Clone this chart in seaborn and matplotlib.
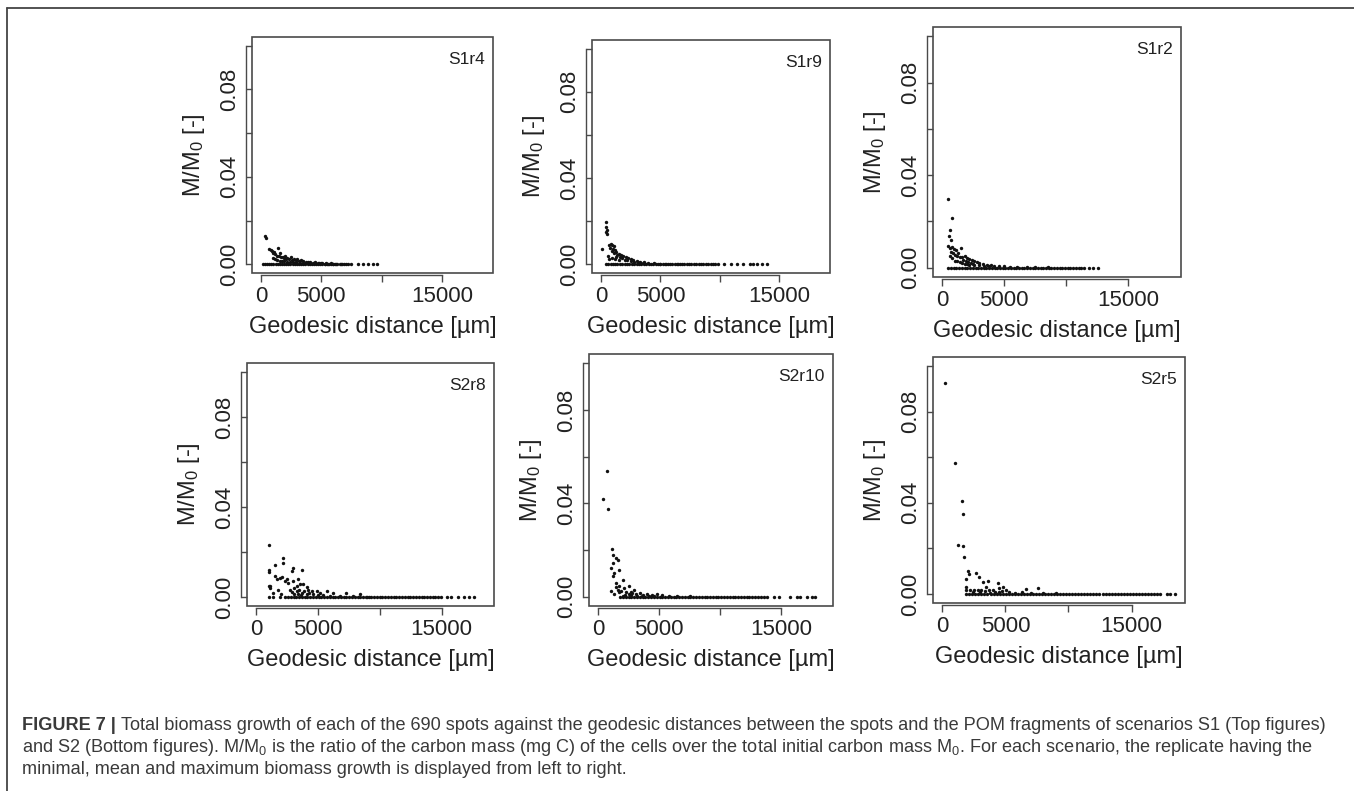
import numpy as np
import pandas as pd
import matplotlib
matplotlib.use('Agg')
import matplotlib.pyplot as plt
from matplotlib.lines import Line2D
from matplotlib.patches import Rectangle
import seaborn as sns

# ── DATA ───────────────────────────────────────
# scattered points above the baseline: distance [um], M/M0 [-]
s1r4_x = [300, 400, 650, 800, 900, 1000, 1100, 1200, 1300, 1400,
          1500, 1600, 1700, 1800, 1900, 2000, 2100, 2200, 2350, 2500,
          2600, 2750, 2900, 3000, 3150, 3300, 3500, 3700, 3900, 4100,
          4300, 4500, 4800, 5100, 5400, 5800, 6200, 6600,
          1000, 1150, 1350, 1550, 1750, 1950, 2150, 2400, 2650, 2900,
          3200, 3450, 3750, 4050, 4400, 4700, 5000, 5300, 5600, 6000]
s1r4_y = [0.0130, 0.0120, 0.0070, 0.0065, 0.0060, 0.0050, 0.0058, 0.0045, 0.0040, 0.0075,
          0.0038, 0.0050, 0.0032, 0.0035, 0.0028, 0.0040, 0.0026, 0.0030, 0.0022, 0.0033,
          0.0020, 0.0025, 0.0018, 0.0022, 0.0015, 0.0018, 0.0014, 0.0012, 0.0011, 0.0010,
          0.0008, 0.0009, 0.0007, 0.0006, 0.0005, 0.0004, 0.0003, 0.0002,
          0.0028, 0.0022, 0.0018, 0.0016, 0.0014, 0.0013, 0.0012, 0.0011, 0.0010, 0.0009,
          0.0008, 0.0007, 0.0006, 0.0006, 0.0005, 0.0004, 0.0004, 0.0003, 0.0003, 0.0002]
s1r4_base = [150, 330, 500, 690, 860, 1040, 1220, 1390, 1570, 1750, 1920, 2100, 2280, 2450,
             2630, 2810, 2980, 3160, 3340, 3510, 3690, 3870, 4040, 4220, 4400, 4570, 4750,
             4930, 5100, 5280, 5460, 5630, 5810, 5990, 6160, 6340, 6520, 6690, 6870, 7050,
             7220, 7500, 8040, 8460, 8870, 9290, 9620]

s1r9_x = [475, 470, 480, 460, 490, 140, 836, 700, 950, 1100,
          800, 1000, 1200, 900, 1300, 1100, 1500, 1700, 1400, 1900,
          2100, 1600, 2300, 1800, 2500, 2000, 2700, 2200, 3000, 2500,
          3300, 2800, 3600, 3100, 4000, 3500, 4500, 5000, 5500, 6500,
          600, 700, 900, 1200, 1500, 1300]
s1r9_y = [0.0197, 0.0175, 0.0160, 0.0150, 0.0140, 0.0073, 0.0096, 0.0090, 0.0092, 0.0085,
          0.0078, 0.0070, 0.0068, 0.0060, 0.0058, 0.0052, 0.0050, 0.0045, 0.0042, 0.0040,
          0.0035, 0.0032, 0.0030, 0.0028, 0.0025, 0.0022, 0.0020, 0.0018, 0.0017, 0.0015,
          0.0013, 0.0012, 0.0010, 0.0009, 0.0008, 0.0006, 0.0005, 0.0004, 0.0003, 0.0002,
          0.0040, 0.0025, 0.0030, 0.0025, 0.0020, 0.0035]
s1r9_base = [420, 610, 820, 1010, 1220, 1400, 1610, 1820, 2000, 2210, 2400, 2610, 2820,
             3000, 3210, 3400, 3610, 3800, 4010, 4220, 4400, 4610, 4800, 5010, 5220, 5400,
             5610, 5800, 6010, 6210, 6400, 6610, 6800, 7010, 7220, 7400, 7610, 7800, 8010,
             8220, 8400, 8610, 8800, 9010, 9220, 9400, 9610, 9800, 10300, 10900, 11400,
             11930, 12540, 12800, 13100, 13500, 13990]

s1r2_x = [430, 785, 650, 580, 700, 500, 600, 800, 950, 700,
          1100, 900, 1300, 1500, 1000, 1200, 1400, 1600, 1800, 2000,
          1700, 2200, 1900, 2400, 2100, 2600, 2300, 2800, 2500, 3000,
          3300, 3600, 3900, 4200, 4600, 5000, 5500, 6000, 6800, 7500,
          8500, 600, 800, 1000, 1200, 1400, 1600, 1800, 2000, 2200,
          2600, 3000, 3400, 3800]
s1r2_y = [0.0297, 0.0215, 0.0164, 0.0139, 0.0120, 0.0095, 0.0085, 0.0090, 0.0080, 0.0070,
          0.0075, 0.0062, 0.0065, 0.0086, 0.0055, 0.0050, 0.0048, 0.0045, 0.0050, 0.0040,
          0.0035, 0.0038, 0.0030, 0.0032, 0.0025, 0.0028, 0.0022, 0.0024, 0.0018, 0.0020,
          0.0016, 0.0013, 0.0011, 0.0009, 0.0007, 0.0006, 0.0005, 0.0004, 0.0003, 0.0002,
          0.0002, 0.0050, 0.0040, 0.0030, 0.0028, 0.0024, 0.0020, 0.0017, 0.0015, 0.0013,
          0.0012, 0.0010, 0.0008, 0.0007]
s1r2_base = [500, 720, 930, 1150, 1380, 1600, 1810, 2030, 2260, 2480, 2700, 2910, 3130,
             3350, 3570, 3790, 4000, 4220, 4440, 4660, 4880, 5100, 5310, 5530, 5750, 5970,
             6190, 6400, 6620, 6840, 7060, 7280, 7500, 7710, 7930, 8150, 8370, 8590, 8800,
             9020, 9240, 9460, 9680, 9900, 10110, 10330, 10550, 10770, 10990, 11200, 11450,
             11800, 12150, 12560]

s2r8_x = [1075, 1075, 1075, 1075, 1100, 1100, 1530, 2200, 2200, 2875,
          3680, 3000, 1530, 1660, 1930, 2470, 2600, 1800, 3000, 3280,
          3400, 3550, 3820, 4090, 4220, 4490, 4900, 5170, 5700, 6240,
          7300, 8370, 2100, 2350, 1400, 2000, 2700, 3100, 3300, 3500,
          3700, 3900, 4100, 4300, 4600, 5000, 5400, 6000, 6800, 7800,
          9000, 3100, 3400, 3600, 2900]
s2r8_y = [0.0231, 0.0120, 0.0110, 0.0050, 0.0040, 0.0048, 0.0142, 0.0172, 0.0153, 0.0117,
          0.0120, 0.0129, 0.0093, 0.0078, 0.0085, 0.0081, 0.0062, 0.0033, 0.0069, 0.0047,
          0.0078, 0.0060, 0.0056, 0.0045, 0.0033, 0.0025, 0.0028, 0.0019, 0.0025, 0.0018,
          0.0016, 0.0012, 0.0090, 0.0070, 0.0020, 0.0015, 0.0030, 0.0038, 0.0025, 0.0030,
          0.0020, 0.0028, 0.0015, 0.0020, 0.0012, 0.0010, 0.0008, 0.0006, 0.0004, 0.0003,
          0.0002, 0.0015, 0.0012, 0.0010, 0.0022]
s2r8_base = [1000, 1400, 1900, 2300, 2600, 2800, 3030, 3250, 3480, 3700, 3920, 4150, 4380,
             4600, 4820, 5050, 5280, 5500, 5720, 5950, 6180, 6400, 6620, 6850, 7080, 7300,
             7520, 7750, 7980, 8200, 8420, 8650, 8880, 9100, 9320, 9550, 9780, 10000, 10220,
             10450, 10680, 10900, 11120, 11350, 11580, 11800, 12020, 12250, 12480, 12700,
             12920, 13150, 13380, 13600, 13820, 14050, 14280, 14500, 14720, 14950, 15400,
             15800, 16300, 16800, 17200, 17650]

s2r10_x = [734, 435, 843, 1142, 1250, 1469, 1605, 1740, 1197, 1333,
           1061, 1197, 1469, 2013, 1740, 2149, 2557, 2693, 2965, 1061,
           1333, 2013, 1600, 1900, 2300, 2500, 2800, 3100, 3400, 3700,
           4000, 4400, 4800, 5200, 5800, 6500, 7500, 2200, 2700, 3200,
           3600, 4200, 4600, 1500, 1700]
s2r10_y = [0.0539, 0.0420, 0.0374, 0.0206, 0.0180, 0.0166, 0.0156, 0.0116, 0.0145, 0.0102,
           0.0123, 0.0087, 0.0059, 0.0070, 0.0044, 0.0037, 0.0044, 0.0018, 0.0027, 0.0026,
           0.0013, 0.0001, 0.0030, 0.0025, 0.0020, 0.0012, 0.0015, 0.0010, 0.0014, 0.0008,
           0.0012, 0.0007, 0.0010, 0.0006, 0.0005, 0.0004, 0.0003, 0.0008, 0.0006, 0.0005,
           0.0004, 0.0003, 0.0002, 0.0040, 0.0022]
s2r10_base = [1800, 2050, 2280, 2500, 2740, 2960, 3200, 3420, 3660, 3880, 4120, 4340, 4580,
              4800, 5040, 5260, 5500, 5720, 5960, 6180, 6420, 6640, 6880, 7100, 7340, 7560,
              7800, 8020, 8260, 8480, 8720, 8940, 9180, 9400, 9640, 9860, 10100, 10320,
              10560, 10780, 11020, 11240, 11480, 11700, 11940, 12160, 12400, 12620, 12860,
              13080, 13320, 13550, 13850, 14393, 14800, 15752, 16296, 16568, 17112, 17520,
              17792]

s2r5_x = [250, 1000, 1532, 1667, 1270, 1667, 1746, 2063, 1879, 2143,
          2675, 2937, 3200, 3595, 3464, 4389, 4524, 4786, 3994, 3730,
          5056, 6643, 7563, 1879, 1879, 2200, 2500, 2800, 3100, 3400,
          4200, 4700, 5300, 5800, 6300, 7000, 8000, 9000, 2400, 3000,
          3800, 4500]
s2r5_y = [0.0924, 0.0573, 0.0408, 0.0350, 0.0215, 0.0210, 0.0161, 0.0101, 0.0064, 0.0088,
          0.0091, 0.0076, 0.0054, 0.0058, 0.0032, 0.0047, 0.0025, 0.0029, 0.0018, 0.0018,
          0.0018, 0.0022, 0.0024, 0.0032, 0.0018, 0.0018, 0.0018, 0.0018, 0.0018, 0.0012,
          0.0010, 0.0012, 0.0008, 0.0006, 0.0010, 0.0005, 0.0004, 0.0003, 0.0008, 0.0010,
          0.0006, 0.0007]
s2r5_base = [1900, 2150, 2380, 2620, 2860, 3100, 3340, 3580, 3820, 4060, 4300, 4540, 4780,
             5020, 5260, 5500, 5740, 5980, 6220, 6460, 6700, 6940, 7180, 7420, 7660, 7900,
             8140, 8380, 8620, 8860, 9100, 9340, 9580, 9820, 10060, 10300, 10540, 10780,
             11020, 11260, 11500, 11740, 11980, 12220, 12460, 12700, 12940, 13180, 13420,
             13660, 13900, 14140, 14380, 14620, 14860, 15100, 15340, 15580, 15820, 16060,
             16300, 16540, 16780, 17030, 17280, 17810, 18080, 18476]

panel_names = ['S1r4', 'S1r9', 'S1r2', 'S2r8', 'S2r10', 'S2r5']
panel_data = {
    'S1r4': (s1r4_x, s1r4_y, s1r4_base),
    'S1r9': (s1r9_x, s1r9_y, s1r9_base),
    'S1r2': (s1r2_x, s1r2_y, s1r2_base),
    'S2r8': (s2r8_x, s2r8_y, s2r8_base),
    'S2r10': (s2r10_x, s2r10_y, s2r10_base),
    'S2r5': (s2r5_x, s2r5_y, s2r5_base),
}

x_ticks = [0, 5000, 10000, 15000]
x_ticklabels = ['0', '5000', '', '15000']
y_ticks = [0.0, 0.02, 0.04, 0.06, 0.08, 0.10]
y_ticklabels = ['0.00', '', '0.04', '', '0.08', '']

caption_bold = 'FIGURE 7 |'
caption_lines = [
    'Total biomass growth of each of the 690 spots against the geodesic distances between '
    'the spots and the POM fragments of scenarios S1 (Top figures)',
    'and S2 (Bottom figures). M/M$_0$ is the ratio of the carbon mass (mg C) of the cells over '
    'the total initial carbon mass M$_0$. For each scenario, the replicate having the',
    'minimal, mean and maximum biomass growth is displayed from left to right.',
]

# ── STYLE ──────────────────────────────────────
sns.set_theme(style='white')
plt.rcParams['font.family'] = ['Liberation Sans', 'DejaVu Sans']
plt.rcParams['mathtext.fontset'] = 'custom'
plt.rcParams['mathtext.rm'] = 'Liberation Sans'
plt.rcParams['mathtext.default'] = 'regular'

W, H = 1354, 791
fig = plt.figure(figsize=(W / 100, H / 100), dpi=100)
fig.patch.set_facecolor('white')

# axes boxes in pixels: left, right, top, bottom
boxes = {
    'S1r4': (252, 493, 37, 273),
    'S1r9': (592, 830, 40, 273),
    'S1r2': (933, 1181, 27, 277),
    'S2r8': (247, 494, 363, 606),
    'S2r10': (589, 833, 354, 606),
    'S2r5': (933, 1185, 357, 603),
}

ink = '#222222'
line_col = '#4a4a4a'

for name in panel_names:
    l, r, t, b = boxes[name]
    ax = fig.add_axes([l / W, 1 - b / H, (r - l) / W, (b - t) / H])
    xs, ys, base = panel_data[name]
    df = pd.DataFrame({'dist': list(xs) + list(base),
                       'mass': list(ys) + [0.0] * len(base)})
    sns.scatterplot(data=df, x='dist', y='mass', ax=ax, s=6, color='#111111',
                    linewidth=0, legend=False)
    ax.set_xlim(-740, 19240)
    ax.set_ylim(-0.004, 0.104)

    # R-like box plus detached axes
    ax.add_patch(Rectangle((0, 0), 1, 1, transform=ax.transAxes, fill=False,
                           lw=1.2, ec=line_col, clip_on=False, zorder=5))
    for s in ['top', 'right']:
        ax.spines[s].set_visible(False)
    ax.spines['left'].set_position(('outward', 4))
    ax.spines['left'].set_bounds(0, 0.1)
    ax.spines['bottom'].set_position(('outward', 1.5))
    ax.spines['bottom'].set_bounds(0, 15000)
    for s in ['left', 'bottom']:
        ax.spines[s].set_color(line_col)
        ax.spines[s].set_linewidth(1.0)

    ax.set_xticks(x_ticks)
    ax.set_xticklabels(x_ticklabels)
    ax.set_yticks(y_ticks)
    ax.set_yticklabels(y_ticklabels)
    ax.tick_params(axis='y', direction='in', length=4.5, width=1, color=line_col,
                   labelsize=16, labelcolor=ink, pad=4.5, left=True)
    ax.tick_params(axis='x', direction='out', length=5, width=1, color=line_col,
                   labelsize=16, labelcolor=ink, pad=3, bottom=True)
    plt.setp(ax.get_yticklabels(), rotation=90, va='center')

    ax.set_xlabel('Geodesic distance [µm]', fontsize=17, color=ink, labelpad=6)
    ax.set_ylabel('M/M$_0$ [-]', fontsize=17, color=ink, labelpad=8.5)
    ax.annotate(name, xy=(1, 1), xycoords='axes fraction', xytext=(-6, -11),
                textcoords='offset points', ha='right', va='top', fontsize=12.5,
                color=ink)

# outer frame (top and left edge of the figure box)
fig.add_artist(Line2D([7 / W, 1], [1 - 8 / H, 1 - 8 / H], transform=fig.transFigure,
                      color='#444444', lw=1.3))
fig.add_artist(Line2D([7 / W, 7 / W], [0, 1 - 8 / H], transform=fig.transFigure,
                      color='#444444', lw=1.3))

# caption
cap_col = '#3a3a3a'
cap_size = 13.1
baselines = [730, 752, 774]
renderer = fig.canvas.get_renderer()
tb = fig.text(22 / W, 1 - baselines[0] / H, caption_bold, fontsize=cap_size,
              weight='bold', color=cap_col, va='baseline', ha='left')
bb = tb.get_window_extent(renderer)
fig.text((bb.x1 + 5) / W, 1 - baselines[0] / H, caption_lines[0], fontsize=cap_size,
         color=cap_col, va='baseline', ha='left')
for i in (1, 2):
    fig.text(22 / W, 1 - baselines[i] / H, caption_lines[i], fontsize=cap_size,
             color=cap_col, va='baseline', ha='left')

fig.savefig('out.png', dpi=100, facecolor='white')
